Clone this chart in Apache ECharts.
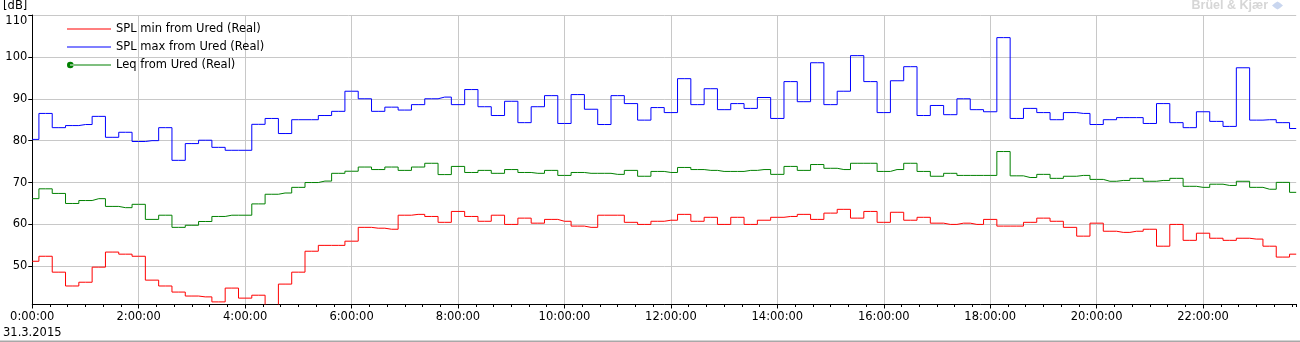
<!DOCTYPE html>
<html>
<head>
<meta charset="utf-8">
<script src="https://cdn.jsdelivr.net/npm/echarts@6.0.0/dist/echarts.min.js"></script>
<style>
html,body{margin:0;padding:0;background:#fff;}
#chart{width:1300px;height:342px;}
</style>
</head>
<body>
<div id="chart"></div>
<script>
// 15-minute intervals (minutes since midnight)
const timesMin = Array.from({length: 96}, (_, i) => i * 15);
const dateLabel = '31.3.2015';
const seriesNames = ['SPL min from Ured (Real)', 'SPL max from Ured (Real)', 'Leq from Ured (Real)'];

const splMin = [
  51.2, 52.4, 48.6, 45.3, 46.2, 49.8, 53.4, 52.9, 52.4, 46.7, 45.3, 43.85, 42.9, 42.7, 41.5, 44.8,
  42.4, 43.1, 39.0, 45.75, 48.6, 53.6, 55.0, 55.0, 56.0, 59.3, 59.1, 58.85, 62.2, 62.4, 61.9, 60.5,
  63.1, 61.9, 60.75, 62.2, 60.0, 61.5, 60.3, 61.2, 60.75, 59.6, 59.3, 62.2, 62.2, 60.5, 60.0, 60.75,
  61.0, 62.4, 60.75, 61.7, 60.0, 61.7, 60.0, 61.0, 61.7, 61.9, 62.4, 61.2, 62.7, 63.6, 61.5, 63.1,
  60.5, 62.9, 61.0, 61.7, 60.3, 60.0, 60.3, 60.0, 61.2, 59.6, 59.6, 60.5, 61.5, 60.75, 59.3, 57.2,
  60.3, 58.37, 58.1, 58.37, 58.85, 54.8, 60.0, 56.2, 57.9, 56.7, 56.2, 56.7, 56.5, 54.8, 52.2, 52.9
];
const splMax = [
  80.3, 86.5, 83.1, 83.6, 83.85, 85.8, 80.8, 82.0, 79.8, 80.0, 83.1, 75.3, 79.3, 80.1, 78.4, 77.7,
  77.7, 83.9, 85.3, 81.7, 85.0, 85.0, 86.0, 87.0, 91.8, 90.0, 87.0, 88.0, 87.3, 88.6, 90.0, 90.4,
  88.6, 92.2, 88.1, 86.0, 89.4, 84.3, 88.1, 90.75, 84.1, 91.0, 87.5, 83.85, 90.75, 88.85, 84.9, 87.9,
  86.7, 94.8, 88.6, 92.4, 87.4, 88.85, 87.7, 90.3, 85.3, 94.1, 89.3, 98.6, 88.6, 91.8, 100.3, 94.1,
  86.7, 94.3, 97.66, 86.0, 88.4, 86.2, 90.0, 87.4, 86.9, 104.6, 85.3, 87.7, 86.7, 85.0, 86.7, 86.5,
  83.85, 85.0, 85.5, 85.5, 84.1, 88.85, 84.3, 83.1, 86.9, 84.6, 83.4, 97.4, 84.9, 85.0, 84.3, 82.9
];
const leq = [
  66.15, 68.5, 67.4, 65.0, 65.7, 66.15, 64.3, 64.0, 64.8, 61.2, 62.2, 59.3, 59.8, 60.7, 61.9, 62.2,
  62.2, 64.9, 67.2, 67.5, 68.85, 70.0, 70.35, 72.2, 72.7, 73.7, 73.1, 73.7, 72.9, 73.7, 74.6, 71.9,
  73.85, 72.4, 72.9, 72.2, 73.1, 72.4, 72.2, 72.9, 71.7, 72.4, 72.2, 72.2, 71.95, 72.9, 71.5, 72.65,
  72.4, 73.6, 73.1, 72.9, 72.65, 72.65, 72.9, 73.1, 71.95, 73.85, 72.9, 74.3, 73.4, 73.1, 74.6, 74.6,
  72.65, 73.1, 74.6, 72.65, 71.5, 72.2, 71.7, 71.7, 71.7, 77.4, 71.6, 71.2, 71.95, 71.0, 71.5, 71.7,
  70.75, 70.3, 70.5, 71.0, 70.3, 70.5, 71.0, 69.1, 68.85, 69.6, 69.3, 70.3, 68.85, 68.4, 70.04, 67.66
];

const FONT = 'DejaVu Sans';
const pair = arr => timesMin.map((t, i) => [t, arr[i]]);

const chart = echarts.init(document.getElementById('chart'), null, {renderer: 'canvas'});
const lineIcon = 'path://M0,3 L43,3 L43,4 L0,4 Z';
const dotLineIcon = 'path://M0,3.5 A3.3,3.3 0 1,0 6.6,3.5 A3.3,3.3 0 1,0 0,3.5 Z M3,3 L44,3 L44,4 L3,4 Z';

chart.setOption({
  animation: false,
  backgroundColor: '#fff',
  grid: {left: 30.3, right: 3.8, top: 14.5, bottom: 38},
  legend: {
    orient: 'vertical', left: 62, top: 18,
    itemWidth: 44, itemHeight: 7, itemGap: 6,
    selectedMode: false,
    itemStyle: {borderWidth: 0},
    textStyle: {fontFamily: FONT, fontSize: 11.5, color: '#000', lineHeight: 12},
    data: [
      {name: seriesNames[0], icon: lineIcon},
      {name: seriesNames[1], icon: lineIcon},
      {name: seriesNames[2], icon: dotLineIcon}
    ]
  },
  xAxis: [{
    type: 'value', min: 0, max: 1425, interval: 120, position: 'bottom',
    axisLine: {show: true, onZero: false, lineStyle: {color: '#000', width: 1}},
    axisTick: {show: true, length: 4.5, lineStyle: {color: '#000'}},
    axisLabel: {
      color: '#000', fontFamily: FONT, fontSize: 11.5, margin: 5, lineHeight: 16,
      showMaxLabel: false,
      formatter: function (v) {
        if (v % 120 !== 0 || v > 1320) return '';
        return (v / 60) + ':00:00' + (v === 0 ? '\n' + dateLabel : '');
      }
    },
    splitLine: {show: true, showMinLine: false, showMaxLine: false, lineStyle: {color: '#c8c8c8', width: 1}}
  }, {
    type: 'value', min: 0, max: 1425, interval: 20, position: 'bottom',
    axisLine: {show: false},
    axisTick: {show: true, length: 3, lineStyle: {color: '#000'}},
    axisLabel: {show: false},
    splitLine: {show: false}
  }],
  yAxis: {
    type: 'value', min: 41, max: 110,
    name: '[dB]', nameLocation: 'end', nameGap: 3,
    nameTextStyle: {color: '#000', fontFamily: FONT, fontSize: 11.5, align: 'right', verticalAlign: 'bottom', padding: [0, 5, 0, 0]},
    axisLine: {show: true, lineStyle: {color: '#000', width: 1}},
    axisTick: {show: true, length: 4, lineStyle: {color: '#000'}},
    axisLabel: {color: '#000', fontFamily: FONT, fontSize: 11.5, margin: 5, showMinLabel: false, verticalAlignMaxLabel: 'top'},
    splitLine: {show: true, lineStyle: {color: '#c8c8c8', width: 1}}
  },
  series: [
    {name: seriesNames[0], type: 'line', step: 'middle', xAxisIndex: 0, data: pair(splMin), showSymbol: false, symbol: 'none', clip: true,
     itemStyle: {color: '#ff0000'}, lineStyle: {color: '#ff0000', width: 1}},
    {name: seriesNames[1], type: 'line', step: 'middle', xAxisIndex: 0, data: pair(splMax), showSymbol: false, symbol: 'none', clip: true,
     itemStyle: {color: '#0000ff'}, lineStyle: {color: '#0000ff', width: 1}},
    {name: seriesNames[2], type: 'line', step: 'middle', xAxisIndex: 0, data: pair(leq), showSymbol: false, symbol: 'none', clip: true,
     itemStyle: {color: '#008000'}, lineStyle: {color: '#008000', width: 1}}
  ],
  graphic: [
    {type: 'text', right: 32, top: -1, style: {text: 'Brüel & Kjær', fill: '#d6d6d6', font: 'bold 12.5px "Liberation Sans"'}},
    {type: 'polygon', shape: {points: [[1272, 5.5], [1275, 3], [1277.5, 1.5], [1280, 3], [1283, 5.5], [1280, 8], [1277.5, 9.5], [1275, 8]]}, style: {fill: '#c9d6ef'}},
    {type: 'rect', shape: {x: 0, y: 340.5, width: 1300, height: 1.5}, style: {fill: '#a8a8a8'}}
  ]
});
</script>
</body>
</html>
